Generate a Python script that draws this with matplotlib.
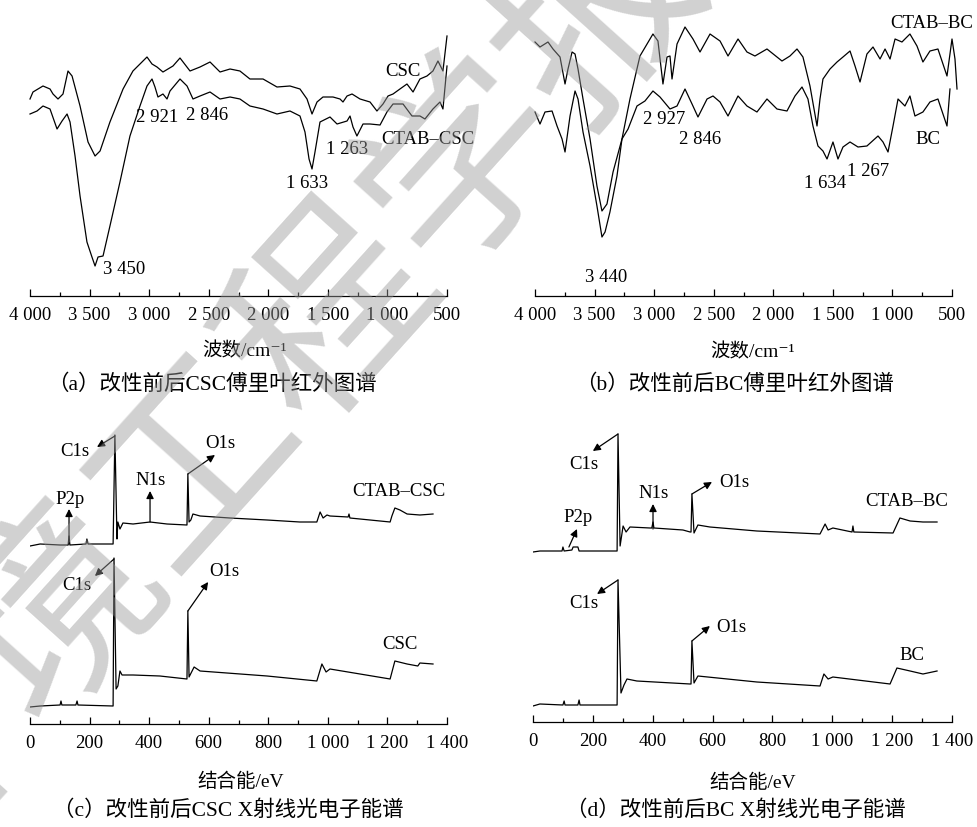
import matplotlib
matplotlib.use('Agg')
import matplotlib.pyplot as plt

plt.rcParams['font.family'] = ['Liberation Serif', 'Noto Sans CJK SC', 'DejaVu Serif']

W, H = 977, 828

# ---- FTIR (a): CSC / CTAB-CSC, wavenumber (cm-1) vs transmittance (a.u.)
csc_wn = [4000, 3975, 3891, 3832, 3807, 3765, 3723, 3681, 3647, 3580, 3513, 3454, 3412,
          3329, 3219, 3136, 3018, 2976, 2934, 2884, 2800, 2741, 2657, 2573, 2489, 2405,
          2321, 2238, 2154, 2044, 1927, 1818, 1734, 1675, 1633, 1591, 1541, 1457, 1398,
          1373, 1339, 1297, 1230, 1146, 1088, 1037, 995, 953, 895, 836, 785, 727, 668,
          618, 576, 534, 500]
csc_t = [197, 204, 210, 207, 202, 197, 202, 225, 220, 190, 154, 140, 145,
         174, 207, 225, 239, 232, 229, 224, 230, 238, 225, 229, 234, 224,
         227, 225, 217, 217, 209, 210, 207, 197, 182, 194, 199, 199, 197,
         194, 200, 202, 197, 194, 185, 192, 200, 202, 207, 212, 204, 217, 220,
         225, 235, 225, 260]
ctab_csc_wn = [4000, 3941, 3891, 3832, 3773, 3731, 3689, 3664, 3622, 3580, 3522, 3480, 3454,
               3429, 3387, 3329, 3245, 3161, 3077, 3018, 2976, 2951, 2926, 2884, 2850, 2825,
               2741, 2682, 2632, 2573, 2489, 2405, 2321, 2238, 2154, 2044, 1927, 1818, 1734,
               1692, 1658, 1633, 1608, 1566, 1482, 1423, 1339, 1314, 1289, 1256, 1205, 1146,
               1062, 1004, 953, 869, 794, 727, 685, 618, 559, 534, 500]
ctab_csc_t = [182, 185, 190, 187, 167, 175, 182, 174, 140, 100, 54, 39, 30,
              39, 40, 70, 114, 160, 190, 210, 217, 209, 199, 202, 197, 205,
              217, 210, 197, 200, 204, 197, 199, 197, 190, 187, 182, 185, 180,
              164, 137, 127, 144, 174, 179, 172, 175, 180, 169, 160, 172, 172,
              171, 184, 192, 192, 180, 180, 177, 187, 194, 187, 230]

# ---- FTIR (b): BC / CTAB-BC
ctab_bc_wn = [4000, 3958, 3891, 3849, 3790, 3748, 3723, 3689, 3664, 3639, 3597, 3538, 3480,
              3438, 3396, 3345, 3270, 3203, 3119, 3010, 2968, 2926, 2892, 2867, 2850, 2808,
              2741, 2674, 2615, 2531, 2447, 2380, 2296, 2221, 2154, 2053, 1927, 1860, 1801,
              1751, 1692, 1633, 1608, 1583, 1524, 1465, 1415, 1356, 1314, 1272, 1214, 1163,
              1104, 1062, 1020, 978, 920, 853, 794, 744, 685, 618, 542, 500, 475, 458]
ctab_bc_t = [254, 249, 254, 247, 239, 212, 227, 244, 242, 227, 197, 157, 110,
             85, 92, 124, 157, 197, 240, 262, 255, 212, 239, 240, 217, 252,
             269, 257, 244, 262, 255, 240, 257, 244, 240, 247, 235, 240, 247,
             239, 210, 170, 197, 217, 227, 234, 239, 245, 230, 214, 242, 249,
             237, 247, 237, 257, 254, 262, 250, 234, 245, 247, 220, 257, 237, 207]
bc_wn = [4000, 3958, 3916, 3857, 3815, 3773, 3748, 3706, 3664, 3639, 3597, 3538, 3480,
         3438, 3412, 3371, 3312, 3270, 3219, 3144, 3077, 3010, 2951, 2867, 2808, 2741,
         2682, 2632, 2556, 2506, 2447, 2380, 2296, 2221, 2137, 2053, 1969, 1885, 1818,
         1759, 1709, 1667, 1625, 1583, 1549, 1499, 1457, 1415, 1356, 1289, 1214, 1121,
         1079, 1037, 995, 953, 895, 853, 811, 744, 685, 618, 542, 517]
bc_t = [184, 172, 184, 185, 170, 157, 144, 180, 205, 197, 164, 130, 90,
        59, 64, 84, 120, 157, 167, 190, 195, 205, 199, 187, 190, 207,
        192, 179, 197, 200, 194, 180, 200, 190, 184, 197, 187, 185, 200,
        209, 197, 170, 150, 145, 137, 154, 137, 149, 154, 149, 150, 160,
        154, 144, 170, 197, 190, 200, 180, 184, 194, 197, 170, 207]

# ---- XPS (c): binding energy (eV) vs intensity (a.u.)
ctab_csc_be = [0, 34, 101, 128, 131, 134, 188, 191, 195, 279, 285, 292, 295, 302, 312,
               346, 403, 460, 527, 530, 534, 540, 547, 571, 671, 796, 906, 963, 974,
               984, 997, 1007, 1068, 1071, 1074, 1209, 1215, 1225, 1242, 1266, 1309, 1353]
ctab_csc_i = [178, 180, 179, 179, 188, 179, 180, 185, 180, 180, 289, 185, 202, 195, 201,
              200, 202, 200, 199, 250, 202, 204, 210, 208, 206, 204, 202, 202, 212,
              206, 209, 208, 207, 210, 206, 202, 208, 216, 214, 210, 209, 210]
csc_be = [0, 34, 101, 104, 107, 154, 158, 161, 279, 282, 289, 295, 302, 309, 346, 436,
          527, 530, 534, 551, 571, 796, 963, 980, 994, 1007, 1209, 1225, 1266, 1302,
          1309, 1353]
csc_i = [17, 18, 19, 23, 19, 19, 23, 19, 18, 166, 35, 38, 53, 49, 49, 48,
         45, 113, 47, 57, 53, 48, 43, 60, 52, 55, 45, 63, 60, 58,
         61, 60]

# ---- XPS (d)
ctab_bc_be = [0, 23, 97, 100, 104, 130, 134, 150, 154, 281, 284, 291, 301, 311, 324,
              391, 397, 401, 404, 501, 525, 528, 531, 538, 551, 591, 748, 959, 976,
              986, 1002, 1066, 1069, 1072, 1203, 1226, 1260, 1303, 1350]
ctab_bc_i = [170, 171, 171, 175, 171, 172, 175, 175, 171, 171, 288, 176, 196, 190, 195,
             194, 194, 200, 194, 192, 190, 190, 228, 189, 197, 195, 191, 188, 198,
             192, 194, 190, 196, 190, 189, 204, 201, 200, 200]
bc_be = [0, 23, 100, 104, 107, 150, 154, 157, 281, 284, 294, 304, 314, 347, 525, 528,
         531, 538, 551, 748, 959, 972, 986, 1002, 1193, 1216, 1260, 1303, 1350]
bc_i = [16, 18, 17, 21, 17, 17, 22, 17, 17, 142, 29, 37, 43, 41, 38, 38,
        81, 39, 46, 40, 36, 48, 43, 45, 38, 54, 51, 48, 51]

ftir_ticks = [4000, 3500, 3000, 2500, 2000, 1500, 1000, 500]
ftir_minor = [3750, 3250, 2750, 2250, 1750, 1250, 750]
ftir_labels = ['4 000', '3 500', '3 000', '2 500', '2 000', '1 500', '1 000', '500']
xps_ticks = [0, 200, 400, 600, 800, 1000, 1200, 1400]
xps_minor = [100, 300, 500, 700, 900, 1100, 1300]
xps_labels = ['0', '200', '400', '600', '800', '1 000', '1 200', '1 400']

LW = 0.9
FS = 13.5


def px_axes(fig, left, right, top, bottom):
    return fig.add_axes([left / W, 1 - bottom / H, (right - left) / W, (bottom - top) / H])


def setup_axis(ax, xlim, ylim, major, minor, labels):
    ax.set_xlim(*xlim)
    ax.set_ylim(*ylim)
    for s in ['left', 'right', 'top']:
        ax.spines[s].set_visible(False)
    ax.spines['bottom'].set_linewidth(LW)
    ax.set_yticks([])
    ax.set_xticks(major)
    ax.set_xticklabels(labels)
    ax.set_xticks(minor, minor=True)
    ax.tick_params(axis='x', which='major', direction='in', length=5, width=LW,
                   labelsize=FS, pad=7)
    ax.tick_params(axis='x', which='minor', direction='in', length=3, width=LW)
    ax.patch.set_alpha(0)


def arrow(ax, start, head):
    ax.annotate('', xy=head, xytext=start,
                arrowprops=dict(arrowstyle='-|>', color='k', lw=LW, mutation_scale=11,
                                shrinkA=0, shrinkB=0))


def ftext(x, y, s, size=14):
    fig.text(x / W, 1 - y / H, s, ha='center', va='center', fontsize=size)


fig = plt.figure(figsize=(W / 100, H / 100), dpi=100)

# (a)
ax = px_axes(fig, 30, 447, 0, 297)
setup_axis(ax, (4000, 500), (0, 297), ftir_ticks, ftir_minor, ftir_labels)
ax.plot(csc_wn, csc_t, color='k', lw=LW, clip_on=False)
ax.plot(ctab_csc_wn, ctab_csc_t, color='k', lw=LW, clip_on=False)
for s, x, y in [('CSC', 869, 226), ('CTAB–CSC', 660, 157), ('2 921', 2934, 179),
                ('2 846', 2514, 181), ('1 263', 1339, 147), ('1 633', 1675, 114),
                ('3 450', 3211, 28)]:
    ax.text(x, y, s, ha='center', va='center', fontsize=FS)

# (b)
ax = px_axes(fig, 535, 952, 0, 297)
setup_axis(ax, (4000, 500), (0, 297), ftir_ticks, ftir_minor, ftir_labels)
ax.plot(ctab_bc_wn, ctab_bc_t, color='k', lw=LW, clip_on=False)
ax.plot(bc_wn, bc_t, color='k', lw=LW, clip_on=False)
for s, x, y in [('CTAB–BC', 668, 274), ('BC', 702, 157), ('2 927', 2917, 177),
                ('2 846', 2615, 157), ('1 634', 1566, 114), ('1 267', 1205, 125),
                ('3 440', 3404, 20)]:
    ax.text(x, y, s, ha='center', va='center', fontsize=FS)

# (c)
ax = px_axes(fig, 30, 447, 410, 725)
setup_axis(ax, (0, 1400), (0, 315), xps_ticks, xps_minor, xps_labels)
ax.plot(ctab_csc_be, ctab_csc_i, color='k', lw=LW)
ax.plot(csc_be, csc_i, color='k', lw=LW)
arrow(ax, (285, 288), (225, 277))
arrow(ax, (530, 250), (621, 269))
arrow(ax, (403, 202), (403, 233))
arrow(ax, (131, 180), (131, 215))
arrow(ax, (282, 165), (218, 148))
arrow(ax, (530, 113), (598, 142))
for s, x, y in [('C1s', 151, 273), ('O1s', 640, 281), ('N1s', 406, 244), ('P2p', 134, 225),
                ('CTAB–CSC', 1239, 233), ('C1s', 158, 140), ('O1s', 651, 153),
                ('CSC', 1242, 80)]:
    ax.text(x, y, s, ha='center', va='center', fontsize=FS)

# (d)
ax = px_axes(fig, 533, 952, 410, 723)
setup_axis(ax, (0, 1400), (0, 313), xps_ticks, xps_minor, xps_labels)
ax.plot(ctab_bc_be, ctab_bc_i, color='k', lw=LW)
ax.plot(bc_be, bc_i, color='k', lw=LW)
arrow(ax, (284, 288), (200, 271))
arrow(ax, (401, 193), (401, 218))
arrow(ax, (531, 228), (598, 240))
arrow(ax, (120, 175), (147, 193))
arrow(ax, (284, 142), (214, 128))
arrow(ax, (531, 81), (591, 96))
for s, x, y in [('C1s', 170, 258), ('N1s', 404, 229), ('O1s', 672, 240), ('P2p', 150, 205),
                ('CTAB–BC', 1250, 221), ('C1s', 170, 120), ('O1s', 662, 95),
                ('BC', 1266, 67)]:
    ax.text(x, y, s, ha='center', va='center', fontsize=FS)

# axis titles and captions
ftext(245, 351, '波数/cm⁻¹')
ftext(753, 352, '波数/cm⁻¹')
ftext(212, 385, '（a）改性前后CSC傅里叶红外图谱', 15.5)
ftext(735, 385, '（b）改性前后BC傅里叶红外图谱', 15.5)
ftext(241, 782, '结合能/eV')
ftext(753, 783, '结合能/eV')
ftext(228, 811, '（c）改性前后CSC X射线光电子能谱', 15.5)
ftext(736, 811, '（d）改性前后BC X射线光电子能谱', 15.5)

# watermark
fig.text(265 / W, 1 - 390 / H, '环境工程学报', ha='center', va='center', rotation=48,
         fontsize=145, family='Noto Sans CJK SC',
         color='#999999', alpha=0.45, zorder=10)

fig.savefig('out.png', dpi=100)
